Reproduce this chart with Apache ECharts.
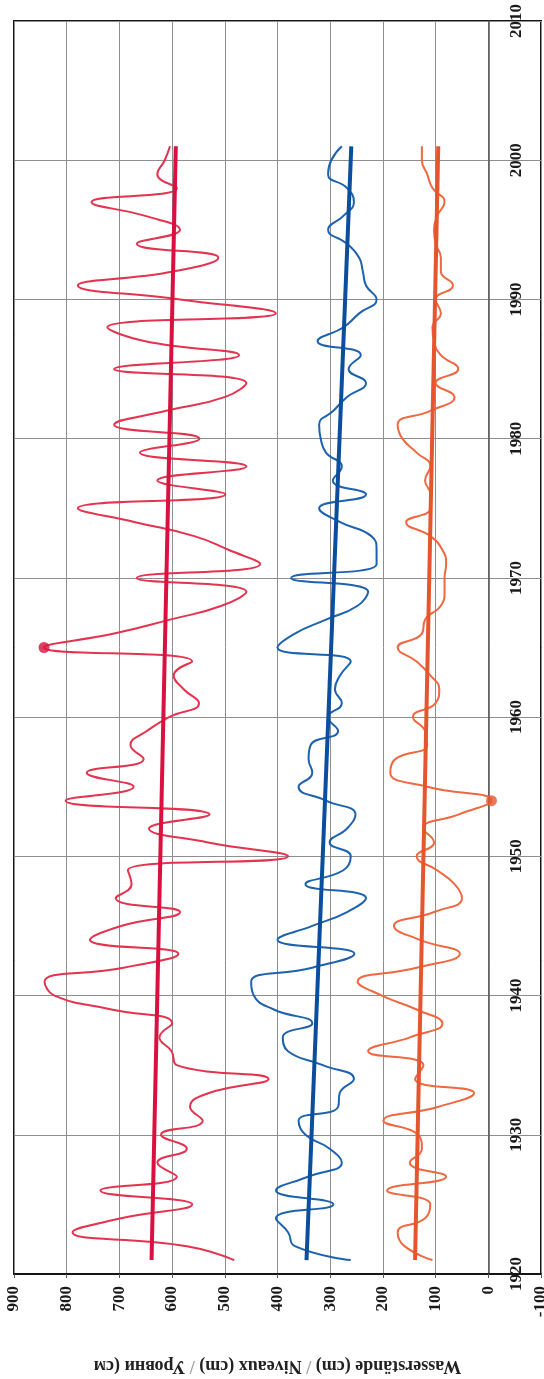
<!DOCTYPE html>
<html>
<head>
<meta charset="utf-8">
<script src="https://cdn.jsdelivr.net/npm/echarts@6/dist/echarts.min.js"></script>
<style>
html,body{margin:0;padding:0;background:#fff;}
#chart{width:544px;height:1379px;}
</style>
</head>
<body>
<div id="chart"></div>
<script>
// Years (annual values)
var years = [];
for (var yr = 1921; yr <= 2001; yr++) { years.push(yr); }

var redValues = [
  482, 572, 789, 697, 562, 736, 591, 628, 572, 621,
  542, 566, 530, 417, 591, 601, 624, 600, 715, 823,
  842, 692, 588, 756, 697, 585, 707, 677, 684, 380,
  532, 644, 529, 802, 673, 762, 654, 679, 648, 606,
  549, 578, 597, 562, 843, 710, 604, 506, 459, 667,
  433, 492, 558, 670, 779, 499, 628, 459, 661, 548,
  710, 611, 499, 459, 710, 473, 651, 723, 403, 585,
  779, 598, 512, 667, 585, 651, 753, 591, 628, 614,
  604
];
var blueValues = [
  261, 367, 380, 403, 294, 403, 341, 278, 301, 347,
  360, 285, 282, 255, 314, 380, 390, 334, 407, 445,
  450, 334, 254, 400, 334, 268, 232, 347, 275, 261,
  301, 268, 252, 308, 360, 334, 341, 337, 285, 304,
  278, 291, 281, 261, 400, 367, 308, 248, 228, 374,
  212, 212, 222, 281, 321, 232, 295, 278, 308, 318,
  321, 294, 268, 232, 265, 242, 324, 275, 245, 212,
  232, 238, 245, 268, 304, 275, 255, 268, 304, 298,
  278
];
var orangeValues = [
  106, 159, 172, 120, 110, 192, 80, 149, 126, 133,
  199, 96, 27, 139, 123, 228, 149, 87, 136, 202,
  248, 136, 54, 130, 179, 103, 50, 64, 97, 136,
  103, 123, 57, -6, 116, 186, 176, 116, 120, 143,
  100, 93, 110, 136, 172, 126, 120, 90, 83, 83,
  80, 87, 110, 156, 110, 110, 120, 110, 136, 163,
  172, 110, 64, 100, 57, 90, 103, 106, 90, 100,
  67, 90, 90, 100, 103, 97, 83, 106, 116, 126,
  126
];

// Trend lines (start / end)
var trendYears = [1921, 2001];
var redTrend = [639, 593];
var blueTrend = [345, 260];
var orangeTrend = [139, 95];

// Axis ticks and title
var valueMin = -100, valueMax = 900, valueStep = 100;
var yearMin = 1920, yearMax = 2010, yearStep = 10;
var titleParts = ['Wasserstände (cm)', 'Niveaux (cm)', 'Уровни (см'];

function pairs(vals, yrs) {
  return vals.map(function (v, i) { return [v, yrs[i]]; });
}
function extremePoint(vals, useMax) {
  var idx = 0;
  for (var i = 1; i < vals.length; i++) {
    if (useMax ? vals[i] > vals[idx] : vals[i] < vals[idx]) idx = i;
  }
  return [[vals[idx], years[idx]]];
}

var C = {
  red: '#e3334f', redTrend: '#da1040',
  blue: '#1c62ae', blueTrend: '#0b4e9d',
  orange: '#ee6840', orangeTrend: '#e5562f'
};
var serif = '"Liberation Serif", "DejaVu Serif", serif';
var GRID = { left: 14, right: 3, top: 21, bottom: 105 };
var W = 544;

function dataLine(vals, color) {
  return {
    type: 'line', data: pairs(vals, years), smooth: 0.5, showSymbol: false,
    lineStyle: { color: color, width: 2 }, itemStyle: { color: color }, z: 3
  };
}
function trendLine(vals, color) {
  return {
    type: 'line', data: pairs(vals, trendYears), showSymbol: false,
    lineStyle: { color: color, width: 4 }, itemStyle: { color: color }, z: 4
  };
}
function marker(pt, color) {
  return {
    type: 'scatter', data: pt, symbolSize: 11,
    itemStyle: { color: color }, z: 5
  };
}

var chart = echarts.init(document.getElementById('chart'), null, { renderer: 'canvas' });
var option = {
  animation: false,
  backgroundColor: '#ffffff',
  grid: {
    left: GRID.left, right: GRID.right, top: GRID.top, bottom: GRID.bottom,
    show: true, borderColor: '#151515', borderWidth: 2,
    containLabel: false, outerBoundsMode: 'none'
  },
  xAxis: {
    type: 'value', min: valueMin, max: valueMax, interval: valueStep,
    inverse: true, position: 'bottom',
    axisLine: { onZero: false, lineStyle: { color: '#151515', width: 2 } },
    axisTick: { show: true, length: 4, lineStyle: { color: '#555' } },
    axisLabel: {
      rotate: 90, margin: 12, fontSize: 17, fontFamily: serif,
      fontWeight: 'bold', color: '#1a1a1a', showMaxLabel: true, showMinLabel: true
    },
    splitLine: { show: true, lineStyle: { color: '#8e8e8e', width: 1 } },
    name: titleParts.join(' {s|/} '), nameLocation: 'middle', nameRotate: 180, nameGap: 83,
    nameTextStyle: {
      fontSize: 18, fontFamily: serif, fontWeight: 'bold', color: '#222',
      rich: { s: { fontSize: 18, fontFamily: serif, fontWeight: 'bold', color: '#a0a0a0' } }
    }
  },
  yAxis: {
    type: 'value', min: yearMin, max: yearMax, interval: yearStep,
    position: 'right', offset: 0,
    axisLine: { show: true, onZero: false, lineStyle: { color: '#555', width: 1.5 } },
    axisTick: { show: false },
    axisLabel: {
      rotate: 90, margin: 20, fontSize: 17, fontFamily: serif,
      fontWeight: 'bold', color: '#1a1a1a', showMaxLabel: true, showMinLabel: true,
      formatter: function (v) { return String(v); }
    },
    splitLine: { show: true, lineStyle: { color: '#8e8e8e', width: 1 } }
  },
  series: [
    dataLine(redValues, C.red),
    dataLine(blueValues, C.blue),
    dataLine(orangeValues, C.orange),
    trendLine(redTrend, C.redTrend),
    trendLine(blueTrend, C.blueTrend),
    trendLine(orangeTrend, C.orangeTrend),
    marker(extremePoint(redValues, true), C.redTrend),
    marker(extremePoint(orangeValues, false), C.orangeTrend)
  ]
};
chart.setOption(option);
// Place the year axis line on the value 0 (as in the reference)
var zeroPx = chart.convertToPixel({ xAxisIndex: 0 }, 0);
var rightEdge = W - GRID.right;
chart.setOption({ yAxis: { offset: zeroPx - rightEdge } });
</script>
</body>
</html>
